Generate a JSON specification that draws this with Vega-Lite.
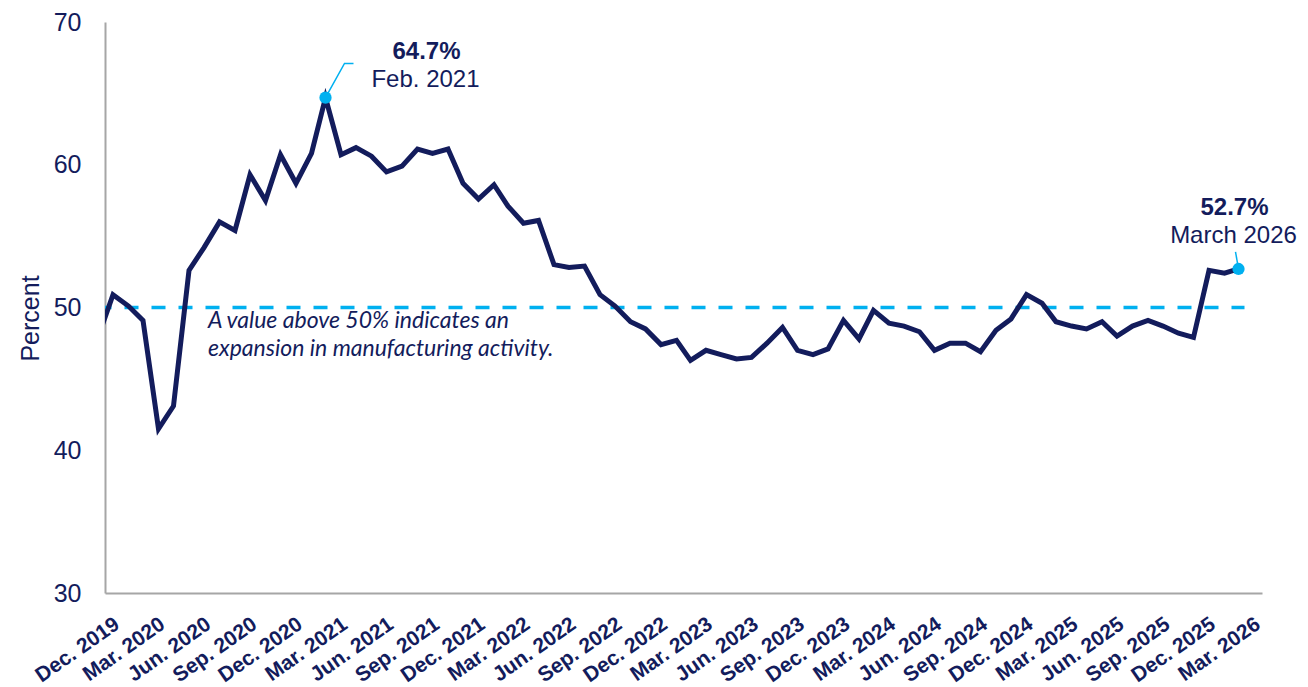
{
  "$schema": "https://vega.github.io/schema/vega-lite/v6.json",
  "width": 1157,
  "height": 571,
  "autosize": {"type": "none"},
  "padding": {"left": 105, "top": 22, "right": 46, "bottom": 94},
  "background": "white",
  "config": {"view": {"stroke": null}, "font": "Liberation Sans"},
  "datasets": {
    "pmi": [
      {"month": "2019-12-01", "value": 47.8},
      {"month": "2020-01-01", "value": 50.9},
      {"month": "2020-02-01", "value": 50.1},
      {"month": "2020-03-01", "value": 49.1},
      {"month": "2020-04-01", "value": 41.5},
      {"month": "2020-05-01", "value": 43.1},
      {"month": "2020-06-01", "value": 52.6},
      {"month": "2020-07-01", "value": 54.2},
      {"month": "2020-08-01", "value": 56.0},
      {"month": "2020-09-01", "value": 55.4},
      {"month": "2020-10-01", "value": 59.3},
      {"month": "2020-11-01", "value": 57.5},
      {"month": "2020-12-01", "value": 60.7},
      {"month": "2021-01-01", "value": 58.7},
      {"month": "2021-02-01", "value": 60.8},
      {"month": "2021-03-01", "value": 64.7},
      {"month": "2021-04-01", "value": 60.7},
      {"month": "2021-05-01", "value": 61.2},
      {"month": "2021-06-01", "value": 60.6},
      {"month": "2021-07-01", "value": 59.5},
      {"month": "2021-08-01", "value": 59.9},
      {"month": "2021-09-01", "value": 61.1},
      {"month": "2021-10-01", "value": 60.8},
      {"month": "2021-11-01", "value": 61.1},
      {"month": "2021-12-01", "value": 58.7},
      {"month": "2022-01-01", "value": 57.6},
      {"month": "2022-02-01", "value": 58.6},
      {"month": "2022-03-01", "value": 57.1},
      {"month": "2022-04-01", "value": 55.9},
      {"month": "2022-05-01", "value": 56.1},
      {"month": "2022-06-01", "value": 53.0},
      {"month": "2022-07-01", "value": 52.8},
      {"month": "2022-08-01", "value": 52.9},
      {"month": "2022-09-01", "value": 50.9},
      {"month": "2022-10-01", "value": 50.1},
      {"month": "2022-11-01", "value": 49.0},
      {"month": "2022-12-01", "value": 48.5},
      {"month": "2023-01-01", "value": 47.4},
      {"month": "2023-02-01", "value": 47.7},
      {"month": "2023-03-01", "value": 46.3},
      {"month": "2023-04-01", "value": 47.0},
      {"month": "2023-05-01", "value": 46.7},
      {"month": "2023-06-01", "value": 46.4},
      {"month": "2023-07-01", "value": 46.5},
      {"month": "2023-08-01", "value": 47.5},
      {"month": "2023-09-01", "value": 48.6},
      {"month": "2023-10-01", "value": 47.0},
      {"month": "2023-11-01", "value": 46.7},
      {"month": "2023-12-01", "value": 47.1},
      {"month": "2024-01-01", "value": 49.1},
      {"month": "2024-02-01", "value": 47.8},
      {"month": "2024-03-01", "value": 49.8},
      {"month": "2024-04-01", "value": 48.9},
      {"month": "2024-05-01", "value": 48.7},
      {"month": "2024-06-01", "value": 48.3},
      {"month": "2024-07-01", "value": 47.0},
      {"month": "2024-08-01", "value": 47.5},
      {"month": "2024-09-01", "value": 47.5},
      {"month": "2024-10-01", "value": 46.9},
      {"month": "2024-11-01", "value": 48.4},
      {"month": "2024-12-01", "value": 49.2},
      {"month": "2025-01-01", "value": 50.9},
      {"month": "2025-02-01", "value": 50.3},
      {"month": "2025-03-01", "value": 49.0},
      {"month": "2025-04-01", "value": 48.7},
      {"month": "2025-05-01", "value": 48.5},
      {"month": "2025-06-01", "value": 49.0},
      {"month": "2025-07-01", "value": 48.0},
      {"month": "2025-08-01", "value": 48.7},
      {"month": "2025-09-01", "value": 49.1},
      {"month": "2025-10-01", "value": 48.7},
      {"month": "2025-11-01", "value": 48.2},
      {"month": "2025-12-01", "value": 47.9},
      {"month": "2026-01-01", "value": 52.6},
      {"month": "2026-02-01", "value": 52.4},
      {"month": "2026-03-01", "value": 52.7}
    ],
    "callouts": [
      {"id": "peak", "month": "2021-03-01", "value": 64.7, "pct": "64.7%", "when": "Feb. 2021"},
      {"id": "last", "month": "2026-03-01", "value": 52.7, "pct": "52.7%", "when": "March 2026"}
    ],
    "leaders": [
      {"grp": "peak", "month": "2021-03-01", "value": 64.7},
      {"grp": "peak", "month": "2021-04-08", "value": 67.1},
      {"grp": "peak", "month": "2021-04-26", "value": 67.1},
      {"grp": "last", "month": "2026-02-23", "value": 53.9},
      {"grp": "last", "month": "2026-03-01", "value": 52.7}
    ],
    "threshold": [
      {"start": "2019-12-01", "end": "2026-03-13", "level": 50, "note": ["A value above 50% indicates an", "expansion in manufacturing activity."], "noteAt": "2020-06-01"}
    ]
  },
  "layer": [
    {
      "data": {"name": "threshold"},
      "mark": {"type": "rule", "color": "#00b0f0", "strokeWidth": 3.5, "strokeDash": [14, 13], "clip": true},
      "encoding": {
        "x": {"field": "start", "type": "temporal"},
        "x2": {"field": "end"},
        "y": {"field": "level", "type": "quantitative"}
      }
    },
    {
      "data": {"name": "pmi"},
      "mark": {"type": "line", "color": "#131c5c", "strokeWidth": 5, "strokeJoin": "miter", "clip": true},
      "encoding": {
        "x": {
          "field": "month", "type": "temporal",
          "scale": {"type": "utc", "domain": [{"year": 2019, "month": 12, "date": 16, "utc": true}, {"year": 2026, "month": 4, "date": 17, "utc": true}]},
          "axis": {
            "title": null,
            "grid": false,
            "ticks": false,
            "domainColor": "#a6a6a6",
            "domainWidth": 2,
            "values": [
              {"year": 2019, "month": 12, "date": 16, "utc": true},
              {"year": 2020, "month": 3, "date": 16, "utc": true},
              {"year": 2020, "month": 6, "date": 16, "utc": true},
              {"year": 2020, "month": 9, "date": 16, "utc": true},
              {"year": 2020, "month": 12, "date": 16, "utc": true},
              {"year": 2021, "month": 3, "date": 16, "utc": true},
              {"year": 2021, "month": 6, "date": 16, "utc": true},
              {"year": 2021, "month": 9, "date": 16, "utc": true},
              {"year": 2021, "month": 12, "date": 16, "utc": true},
              {"year": 2022, "month": 3, "date": 16, "utc": true},
              {"year": 2022, "month": 6, "date": 16, "utc": true},
              {"year": 2022, "month": 9, "date": 16, "utc": true},
              {"year": 2022, "month": 12, "date": 16, "utc": true},
              {"year": 2023, "month": 3, "date": 16, "utc": true},
              {"year": 2023, "month": 6, "date": 16, "utc": true},
              {"year": 2023, "month": 9, "date": 16, "utc": true},
              {"year": 2023, "month": 12, "date": 16, "utc": true},
              {"year": 2024, "month": 3, "date": 16, "utc": true},
              {"year": 2024, "month": 6, "date": 16, "utc": true},
              {"year": 2024, "month": 9, "date": 16, "utc": true},
              {"year": 2024, "month": 12, "date": 16, "utc": true},
              {"year": 2025, "month": 3, "date": 16, "utc": true},
              {"year": 2025, "month": 6, "date": 16, "utc": true},
              {"year": 2025, "month": 9, "date": 16, "utc": true},
              {"year": 2025, "month": 12, "date": 16, "utc": true},
              {"year": 2026, "month": 3, "date": 16, "utc": true}
            ],
            "labelExpr": "utcFormat(datum.value, '%b. %Y')",
            "labelAngle": -35,
            "labelAlign": "right",
            "labelBaseline": "middle",
            "labelOffset": 12,
            "labelPadding": 29,
            "labelFontSize": 21,
            "labelFontWeight": "bold",
            "labelColor": "#131c5c",
            "labelFlush": false,
            "labelOverlap": false,
            "labelBound": false
          }
        },
        "y": {
          "field": "value", "type": "quantitative",
          "scale": {"domain": [30, 70], "nice": false, "zero": false},
          "axis": {
            "title": "Percent",
            "titleFontSize": 25,
            "titleFontWeight": "normal",
            "titleColor": "#131c5c",
            "titlePadding": 10,
            "titleY": 296,
            "values": [30, 40, 50, 60, 70],
            "grid": false,
            "ticks": false,
            "domainColor": "#a6a6a6",
            "domainWidth": 2,
            "labelFontSize": 25,
            "labelColor": "#131c5c",
            "labelPadding": 24,
            "labelFlush": false
          }
        }
      }
    },
    {
      "data": {"name": "leaders"},
      "mark": {"type": "line", "color": "#00b0f0", "strokeWidth": 1.5},
      "encoding": {
        "x": {"field": "month", "type": "temporal"},
        "y": {"field": "value", "type": "quantitative"},
        "detail": {"field": "grp"}
      }
    },
    {
      "data": {"name": "callouts"},
      "mark": {"type": "point", "filled": true, "size": 150, "color": "#00b0f0", "opacity": 1},
      "encoding": {
        "x": {"field": "month", "type": "temporal"},
        "y": {"field": "value", "type": "quantitative"}
      }
    },
    {
      "data": {"name": "callouts"},
      "transform": [{"filter": "datum.id === 'peak'"}],
      "mark": {"type": "text", "fontSize": 24, "fontWeight": "bold", "color": "#131c5c", "align": "center", "baseline": "alphabetic", "dx": 101, "dy": -39},
      "encoding": {
        "x": {"field": "month", "type": "temporal"},
        "y": {"field": "value", "type": "quantitative"},
        "text": {"field": "pct"}
      }
    },
    {
      "data": {"name": "callouts"},
      "transform": [{"filter": "datum.id === 'peak'"}],
      "mark": {"type": "text", "fontSize": 24, "color": "#131c5c", "align": "center", "baseline": "alphabetic", "dx": 100, "dy": -11},
      "encoding": {
        "x": {"field": "month", "type": "temporal"},
        "y": {"field": "value", "type": "quantitative"},
        "text": {"field": "when"}
      }
    },
    {
      "data": {"name": "callouts"},
      "transform": [{"filter": "datum.id === 'last'"}],
      "mark": {"type": "text", "fontSize": 24, "fontWeight": "bold", "color": "#131c5c", "align": "center", "baseline": "alphabetic", "dx": -4, "dy": -54},
      "encoding": {
        "x": {"field": "month", "type": "temporal"},
        "y": {"field": "value", "type": "quantitative"},
        "text": {"field": "pct"}
      }
    },
    {
      "data": {"name": "callouts"},
      "transform": [{"filter": "datum.id === 'last'"}],
      "mark": {"type": "text", "fontSize": 24, "color": "#131c5c", "align": "center", "baseline": "alphabetic", "dx": -5, "dy": -26},
      "encoding": {
        "x": {"field": "month", "type": "temporal"},
        "y": {"field": "value", "type": "quantitative"},
        "text": {"field": "when"}
      }
    },
    {
      "data": {"name": "threshold"},
      "mark": {"type": "text", "font": "Lato", "fontStyle": "italic", "fontSize": 23, "lineHeight": 28, "color": "#131c5c", "align": "left", "baseline": "alphabetic", "dx": 19, "dy": 20},
      "encoding": {
        "x": {"field": "noteAt", "type": "temporal"},
        "y": {"field": "level", "type": "quantitative"},
        "text": {"field": "note"}
      }
    }
  ]
}
